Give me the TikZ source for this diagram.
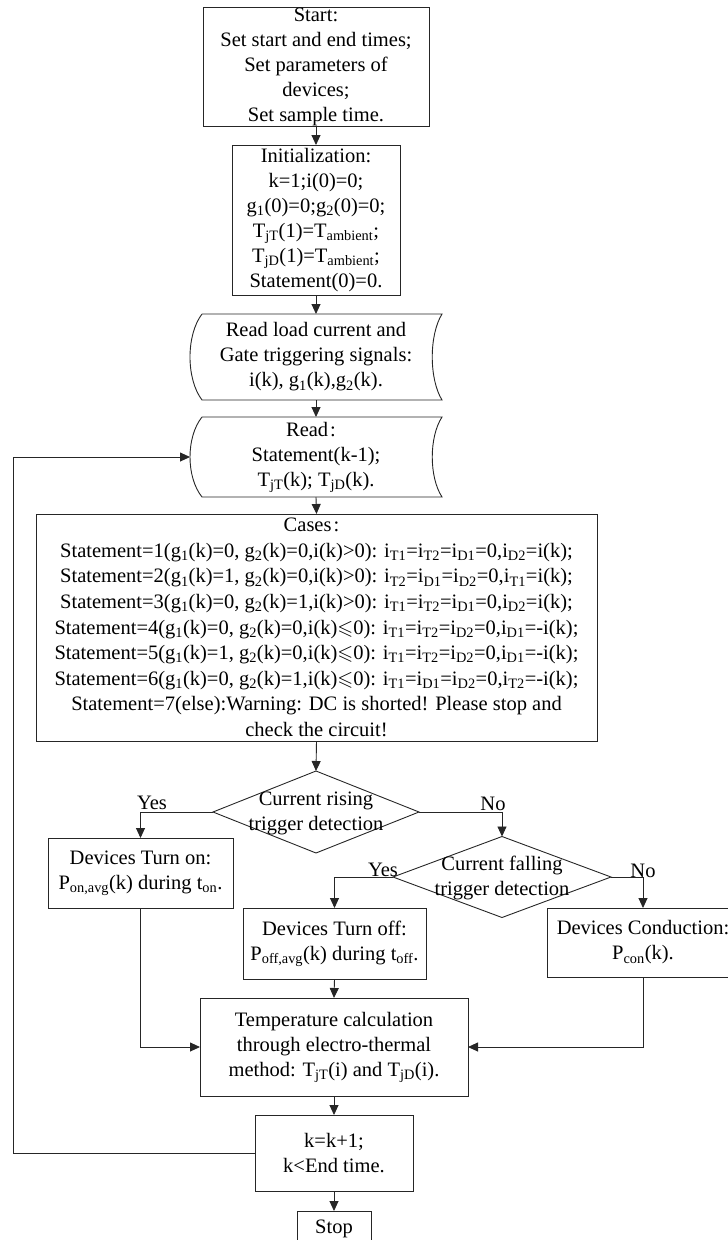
\documentclass[tikz,border=0pt]{standalone}
\usepackage{amssymb}
\usepackage{fontspec}
\setmainfont{Liberation Serif}
\usetikzlibrary{shapes.geometric,arrows.meta}
\newcommand\fs{\fontsize{20.5}{25}\selectfont}
\newcommand\fsc{\fontsize{20.5}{25.6}\selectfont}
\newcommand\sub[1]{\textsubscript{#1}}
\newcommand\leqs{\ensuremath{\leqslant}}
\newcommand\wcolon{\kern2pt:\kern10pt}
\tikzset{
  ln/.style={draw=black!85, line width=0.9pt},
  box/.style={ln, rectangle, inner sep=0pt, outer sep=0pt, align=center, font=\fs},
  txt/.style={inner sep=0pt, outer sep=0pt, align=center, font=\fs},
  dia/.style={ln, diamond, inner sep=0pt, outer sep=0pt},
  arr/.style={ln, -{Triangle[length=10pt,width=9pt]}},
  lbl/.style={inner sep=0pt, font=\fs, anchor=base}
}
\begin{document}
\begin{tikzpicture}[x=1pt,y=-1pt]
\useasboundingbox (0,0) rectangle (728,1240);
\clip (0,0) rectangle (728,1240);
% boxes
\node[box, minimum width=226, minimum height=119] (start) at (316,66.5)
  {Start:\\Set start and end times;\\Set parameters of\\devices;\\Set sample time.};
\node[box, minimum width=168, minimum height=150] (init) at (316,220)
  {Initialization:\\k=1;i(0)=0;\\g\sub{1}(0)=0;g\sub{2}(0)=0;\\T\sub{jT}(1)=T\sub{ambient};\\T\sub{jD}(1)=T\sub{ambient};\\Statement(0)=0.};
% stored data shapes
\draw[ln] (202,314) -- (442,314) .. controls (429,335) and (429,379) .. (442,400) -- (202,400) .. controls (186,379) and (186,335) .. (202,314);
\node[txt, minimum width=252, minimum height=86] (r1) at (316,357)
  {Read load current and\\Gate triggering signals:\\i(k), g\sub{1}(k),g\sub{2}(k).};
\draw[ln] (202,417) -- (442,417) .. controls (429,437) and (429,477) .. (442,497) -- (202,497) .. controls (186,477) and (186,437) .. (202,417);
\node[txt, minimum width=252, minimum height=80] (r2) at (316,457)
  {Read\wcolon\\Statement(k-1);\\T\sub{jT}(k); T\sub{jD}(k).};
\node[box, font=\fsc, minimum width=561, minimum height=227] (cases) at (316.5,627.5)
  {Cases\wcolon\\
Statement=1(g\sub{1}(k)=0, g\sub{2}(k)=0,i(k)>0): i\sub{T1}=i\sub{T2}=i\sub{D1}=0,i\sub{D2}=i(k);\\
Statement=2(g\sub{1}(k)=1, g\sub{2}(k)=0,i(k)>0): i\sub{T2}=i\sub{D1}=i\sub{D2}=0,i\sub{T1}=i(k);\\
Statement=3(g\sub{1}(k)=0, g\sub{2}(k)=1,i(k)>0): i\sub{T1}=i\sub{T2}=i\sub{D1}=0,i\sub{D2}=i(k);\\
Statement=4(g\sub{1}(k)=0, g\sub{2}(k)=0,i(k)\leqs0): i\sub{T1}=i\sub{T2}=i\sub{D2}=0,i\sub{D1}=-i(k);\\
Statement=5(g\sub{1}(k)=1, g\sub{2}(k)=0,i(k)\leqs0): i\sub{T1}=i\sub{T2}=i\sub{D2}=0,i\sub{D1}=-i(k);\\
Statement=6(g\sub{1}(k)=0, g\sub{2}(k)=1,i(k)\leqs0): i\sub{T1}=i\sub{D1}=i\sub{D2}=0,i\sub{T2}=-i(k);\\
Statement=7(else):Warning: DC is shorted! Please stop and\\
check the circuit!};
% decisions
\node[dia, minimum width=206, minimum height=82] (d1) at (316,812) {};
\node[txt] (d1t) at (316,813) {Current rising\\trigger detection};
\node[dia, minimum width=218, minimum height=81] (d2) at (502,877) {};
\node[txt] (d2t) at (502,878) {Current falling\\trigger detection};
\node[box, minimum width=185, minimum height=70] (on) at (140.5,873)
  {Devices Turn on:\\P\sub{on,avg}(k) during t\sub{on}.};
\node[box, minimum width=183, minimum height=71] (off) at (334.5,943.5)
  {Devices Turn off:\\P\sub{off,avg}(k) during t\sub{off}.};
\node[box, minimum width=192, minimum height=69] (con) at (643,942.5)
  {Devices Conduction:\\P\sub{con}(k).};
\node[box, minimum width=268, minimum height=98] (temp) at (334,1047)
  {Temperature calculation\\through electro-thermal\\method: T\sub{jT}(i) and T\sub{jD}(i).};
\node[box, minimum width=158, minimum height=76] (kk) at (334,1153)
  {k=k+1;\\k<End time.};
\node[box, minimum width=74, minimum height=36] (stop) at (334,1229) {Stop};
% labels
\node[lbl] (y1) at (152,809) {Yes};
\node[lbl] (n1) at (493,810) {No};
\node[lbl] (y2) at (383,876) {Yes};
\node[lbl] (n2) at (643,877) {No};
% connectors
\draw[arr] (start.south) -- (init.north);
\draw[arr] (init.south) -- (r1.north);
\draw[arr] (r1.south) -- (r2.north);
\draw[arr] (r2.south) -- (cases.north);
\draw[arr] (cases.south) -- (d1.north);
\draw[arr] (d1.west) -| (on.north);
\draw[arr] (d1.east) -| (d2.north);
\draw[arr] (d2.west) -| (off.north);
\draw[arr] (d2.east) -| (con.north);
\draw[arr] (on.south) |- (temp.west);
\draw[arr] (con.south) |- (temp.east);
\draw[arr] (off.south) -- (temp.north);
\draw[arr] (temp.south) -- (kk.north);
\draw[arr] (kk.south) -- (stop.north);
\coordinate (lp) at (13,1153);
\draw[arr] (kk.west) -- (lp) |- (r2.west);
\end{tikzpicture}
\end{document}
